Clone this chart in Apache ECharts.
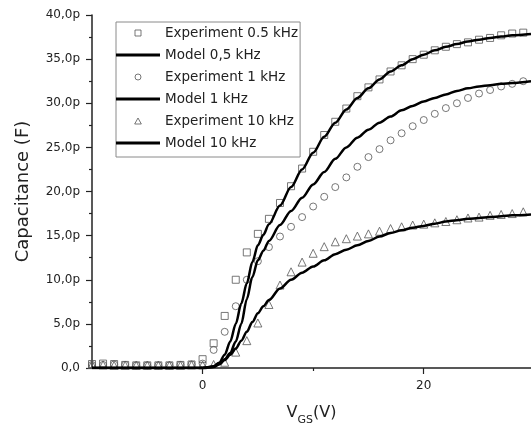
<!DOCTYPE html>
<html>
<head>
<meta charset="utf-8">
<script src="https://cdn.jsdelivr.net/npm/echarts@6/dist/echarts.min.js"></script>
<style>
  html, body { margin: 0; padding: 0; background: #fff; }
  #chart { width: 531px; height: 431px; }
</style>
</head>
<body>
<div id="chart"></div>
<script>
// Gate voltage of the measured points (V)
const vgsExp = [-10, -9, -8, -7, -6, -5, -4, -3, -2, -1, 0, 1, 2, 3, 4, 5, 6, 7, 8, 9,
  10, 11, 12, 13, 14, 15, 16, 17, 18, 19, 20, 21, 22, 23, 24, 25, 26, 27, 28, 29];

// Measured capacitance (pF)
const exp05k = [0.45, 0.5, 0.45, 0.35, 0.3, 0.3, 0.3, 0.3, 0.35, 0.4, 1.0, 2.8, 5.9, 10.0, 13.1, 15.2, 16.9, 18.7, 20.6, 22.6,
  24.5, 26.4, 27.9, 29.4, 30.8, 31.8, 32.7, 33.6, 34.3, 35.0, 35.5, 36.0, 36.4, 36.7, 36.9, 37.2, 37.4, 37.7, 37.9, 38.0];
const exp1k = [0.35, 0.35, 0.4, 0.35, 0.3, 0.3, 0.3, 0.3, 0.35, 0.4, 0.5, 2.05, 4.1, 7.0, 10.0, 12.1, 13.7, 14.9, 16.0, 17.1,
  18.3, 19.4, 20.5, 21.6, 22.8, 23.9, 24.8, 25.8, 26.6, 27.4, 28.1, 28.8, 29.45, 30.0, 30.6, 31.1, 31.5, 31.9, 32.2, 32.5];
const exp10k = [0.4, 0.35, 0.3, 0.3, 0.3, 0.3, 0.3, 0.3, 0.3, 0.35, 0.35, 0.4, 0.65, 1.8, 3.1, 5.1, 7.2, 9.4, 10.9, 12.0,
  13.0, 13.75, 14.3, 14.65, 14.95, 15.2, 15.5, 15.8, 16.0, 16.2, 16.3, 16.45, 16.6, 16.8, 17.0, 17.1, 17.3, 17.4, 17.5, 17.7];

// Gate voltage of the model curves (V)
const vgsModel = [-10, -5, 0, 1, 1.5, 2, 2.5, 3, 3.5, 4, 4.5, 5, 5.5, 6, 7, 8, 9, 10, 11, 12,
  13, 14, 15, 16, 17, 18, 19, 20, 21, 22, 23, 24, 25, 26, 27, 28, 29.7];

// Model capacitance (pF)
const model05k = [0, 0, 0, 0.2, 0.6, 1.5, 3.0, 5.0, 7.3, 9.6, 12.0, 13.9, 15.1, 16.3, 18.4, 20.5, 22.5, 24.4, 26.2, 27.8,
  29.3, 30.6, 31.7, 32.7, 33.6, 34.3, 35.0, 35.5, 36.0, 36.4, 36.7, 37.0, 37.2, 37.4, 37.55, 37.7, 37.85];
const model1k = [0, 0, 0, 0.15, 0.5, 1.0, 1.7, 3.0, 5.0, 7.8, 10.3, 12.2, 13.3, 14.4, 16.2, 17.8, 19.3, 20.8, 22.2, 23.7,
  25.0, 26.1, 27.0, 27.8, 28.5, 29.2, 29.7, 30.2, 30.6, 31.0, 31.4, 31.7, 31.9, 32.05, 32.2, 32.3, 32.5];
const model10k = [0, 0, 0, 0.1, 0.4, 0.9, 1.5, 2.2, 3.1, 4.1, 5.2, 6.2, 7.0, 7.7, 9.0, 10.0, 10.8, 11.5, 12.2, 12.9,
  13.4, 13.9, 14.4, 14.9, 15.3, 15.6, 15.9, 16.1, 16.35, 16.6, 16.75, 16.9, 17.0, 17.1, 17.2, 17.3, 17.4];

// Axis ticks
const xMajorTicks = [0, 20];
const xMinorTicks = [10];
const yTicks = [0, 5, 10, 15, 20, 25, 30, 35, 40];

const seriesNames = ['Experiment 0.5 kHz', 'Model 0,5 kHz', 'Experiment 1 kHz', 'Model 1 kHz', 'Experiment 10 kHz', 'Model 10 kHz'];

const FONT = 'DejaVu Sans';
const INK = '#222';
const MARK = '#555';

const zip = (xs, ys) => xs.map((x, i) => [x, ys[i]]);

function expSeries(name, symbol, size, values) {
  return {
    name: name,
    type: 'scatter',
    symbol: symbol,
    symbolSize: size,
    data: zip(vgsExp, values),
    itemStyle: { color: 'rgba(0,0,0,0)', borderColor: MARK, borderWidth: 1 },
    emphasis: { disabled: true },
    z: 2
  };
}

function modelSeries(name, values) {
  return {
    name: name,
    type: 'line',
    data: zip(vgsModel, values),
    showSymbol: false,
    symbol: 'none',
    smooth: 0.3,
    smoothMonotone: 'x',
    lineStyle: { color: '#000', width: 2.5 },
    itemStyle: { color: '#000' },
    emphasis: { disabled: true },
    z: 3
  };
}

// Legend icons: paths keep their aspect, so they stay small inside the wide icon box
const lineIcon = 'path://M0,0L44,0L44,3L0,3Z';
const squareIcon = 'path://M0,0L10,0L10,10L0,10Z';
const triangleIcon = 'path://M5,0L10,9L0,9Z';
const hollow = { color: 'rgba(0,0,0,0)', borderColor: MARK, borderWidth: 1 };
const solid = { color: '#000', borderWidth: 0 };

const chart = echarts.init(document.getElementById('chart'), null, { renderer: 'canvas' });

chart.setOption({
  backgroundColor: '#fff',
  animation: false,
  textStyle: { fontFamily: FONT },
  grid: { left: 92, right: 0, top: 15, bottom: 62, containLabel: false },
  legend: {
    orient: 'vertical',
    left: 116,
    top: 22,
    padding: [3, 2, 6, 0],
    itemWidth: 44,
    itemHeight: 6,
    itemGap: 6,
    symbolKeepAspect: true,
    borderColor: '#8a8a8a',
    borderWidth: 1,
    backgroundColor: '#fff',
    selectedMode: false,
    textStyle: { fontFamily: FONT, fontSize: 13.5, color: INK, lineHeight: 16 },
    data: [
      { name: seriesNames[0], icon: squareIcon, itemStyle: hollow },
      { name: seriesNames[1], icon: lineIcon, itemStyle: solid },
      { name: seriesNames[2], icon: 'circle', itemStyle: hollow },
      { name: seriesNames[3], icon: lineIcon, itemStyle: solid },
      { name: seriesNames[4], icon: triangleIcon, itemStyle: hollow },
      { name: seriesNames[5], icon: lineIcon, itemStyle: solid }
    ]
  },
  xAxis: [
    {
      type: 'value',
      min: -10,
      max: 29.7,
      position: 'bottom',
      name: '{v|V}{s|GS}{v|(V)}',
      nameLocation: 'middle',
      nameGap: 38,
      nameTextStyle: {
        rich: {
          // the main letters sit higher than the subscript
          v: { fontFamily: FONT, fontSize: 16, color: INK, lineHeight: 20, verticalAlign: 'bottom', padding: [0, 0, 5, 0] },
          s: { fontFamily: FONT, fontSize: 11, color: INK, lineHeight: 14, verticalAlign: 'bottom' }
        }
      },
      splitLine: { show: false },
      axisLine: { onZero: false, lineStyle: { color: INK, width: 1.5 } },
      axisTick: { show: true, inside: false, length: 6, customValues: xMajorTicks, lineStyle: { color: INK, width: 1.2 } },
      axisLabel: { customValues: xMajorTicks, margin: 12, fontSize: 12, fontFamily: FONT, color: INK }
    },
    {
      type: 'value',
      min: -10,
      max: 29.7,
      position: 'bottom',
      splitLine: { show: false },
      axisLine: { show: false, onZero: false },
      axisTick: { show: true, inside: false, length: 3, customValues: xMinorTicks, lineStyle: { color: INK, width: 1.2 } },
      axisLabel: { show: false }
    }
  ],
  yAxis: {
    type: 'value',
    min: 0,
    max: 40,
    interval: 5,
    name: 'Capacitance (F)',
    nameLocation: 'middle',
    nameRotate: 90,
    nameGap: 60,
    nameTextStyle: { fontFamily: FONT, fontSize: 18, color: INK },
    splitLine: { show: false },
    axisLine: { show: true, onZero: false, lineStyle: { color: INK, width: 1.5 } },
    axisTick: { show: true, inside: false, length: 6, customValues: yTicks, lineStyle: { color: INK, width: 1.2 } },
    minorTick: { show: true, splitNumber: 2, length: 3, lineStyle: { color: INK, width: 1.2 } },
    axisLabel: {
      margin: 12,
      fontSize: 12,
      fontFamily: FONT,
      color: INK,
      formatter: v => (v === 0 ? '0,0' : v.toFixed(1).replace('.', ',') + 'p')
    }
  },
  series: [
    expSeries(seriesNames[0], 'rect', 7, exp05k),
    modelSeries(seriesNames[1], model05k),
    expSeries(seriesNames[2], 'circle', 7, exp1k),
    modelSeries(seriesNames[3], model1k),
    expSeries(seriesNames[4], 'triangle', 8, exp10k),
    modelSeries(seriesNames[5], model10k)
  ]
});
</script>
</body>
</html>
